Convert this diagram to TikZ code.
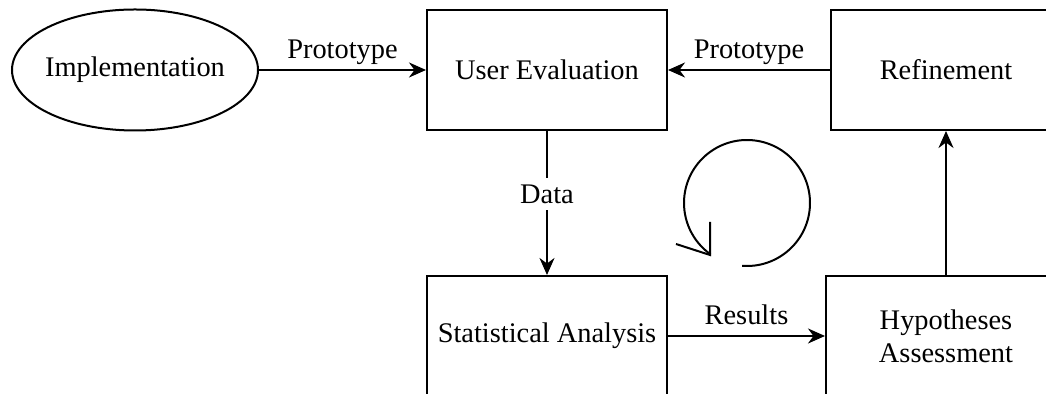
\documentclass[tikz,border=0pt]{standalone}
\usepackage{fontspec}
\setmainfont{Liberation Serif}
\usetikzlibrary{positioning,arrows.meta,shapes.geometric}
\newcommand{\fLab}{\fontsize{14.2}{16.5}\selectfont}

\begin{document}
\begin{tikzpicture}[x=0.5pt,y=-0.5pt,
  stage/.style={draw,line width=1pt,minimum width=120pt,minimum height=60pt,inner sep=0pt,align=center,font=\fLab},
  flow/.style={-{Stealth[length=8.5pt,width=7.5pt]},line width=1pt},
  lbl/.style={font=\fLab,inner sep=2pt,text depth=3pt}]
  \useasboundingbox (0,0) rectangle (1046,394);
  \node[ellipse,draw,line width=1pt,minimum width=123pt,minimum height=60.5pt,inner xsep=-3pt,inner ysep=0pt,font=\fLab] (impl) at (135,70) {Implementation};
  \node[stage,right=83.5pt of impl] (eval) {User Evaluation};
  \node[stage,right=81pt of eval,minimum width=115pt] (refine) {Refinement};
  \node[stage,below=72pt of eval] (stats) {Statistical Analysis};
  \node[stage,below=72pt of refine] (hyp) {Hypotheses\\Assessment};
  \draw[flow] (impl) -- node[lbl,above] {Prototype} (eval);
  \draw[flow] (refine) -- node[lbl,above] {Prototype} (eval);
  \draw[flow] (eval) -- node[pos=0.44,fill=white,font=\fLab] {Data} (stats);
  \draw[flow] (stats) -- node[lbl,above] {Results} (hyp);
  \draw[flow] (hyp) -- (refine);
  % cycle symbol
  \coordinate (cyc) at (747,203);
  \draw[line width=1pt] ([shift={(94.5:63)}]cyc) arc[start angle=94.5,end angle=-234.6,radius=63];
  \draw[line width=1pt,line join=miter] ([shift={(-37,19)}]cyc) -- ([shift={(-37,52)}]cyc) -- ([shift={(-71,41)}]cyc);
\end{tikzpicture}
\end{document}
